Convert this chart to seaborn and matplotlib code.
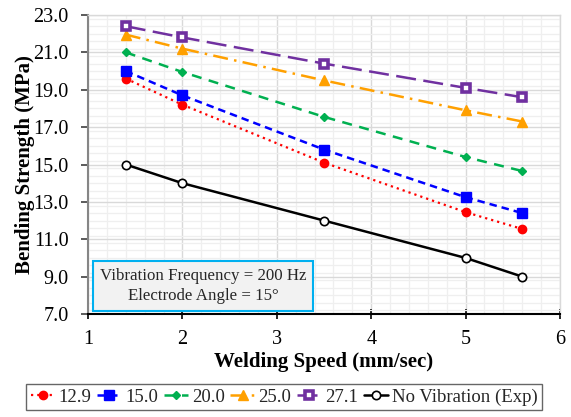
import matplotlib
matplotlib.use("Agg")
import matplotlib.pyplot as plt
import seaborn as sns
import pandas as pd
from matplotlib.ticker import MultipleLocator

sns.set_theme(style="white")
plt.rcParams['font.family'] = ['Liberation Serif', 'DejaVu Serif']
plt.rcParams['mathtext.fontset'] = 'stix'

speed = [1.4, 2.0, 3.5, 5.0, 5.6]
s_12_9 = [19.6, 18.2, 15.1, 12.45, 11.55]
s_15_0 = [20.0, 18.7, 15.8, 13.25, 12.4]
s_20_0 = [21.0, 19.95, 17.55, 15.4, 14.65]
s_25_0 = [21.95, 21.2, 19.5, 17.9, 17.3]
s_27_1 = [22.4, 21.8, 20.4, 19.1, 18.6]
s_none = [15.0, 14.0, 12.0, 10.0, 9.0]
labels = ["12.9", "15.0", "20.0", "25.0", "27.1", "No Vibration (Exp)"]
yticks = [7, 9, 11, 13, 15, 17, 19, 21, 23]
xticks = [1, 2, 3, 4, 5, 6]

series = [s_12_9, s_15_0, s_20_0, s_25_0, s_27_1, s_none]
rows = []
for lab, vals in zip(labels, series):
    for x, y in zip(speed, vals):
        rows.append({"speed": x, "strength": y, "series": lab})
df = pd.DataFrame(rows)

styles = {
    "12.9": dict(color="#ff0000", linestyle=(0, (1, 1.8)), marker="o", ms=6,
                 mfc="#ff0000", mec="#ff0000", lw=1.6),
    "15.0": dict(color="#0000ff", linestyle=(0, (3, 2)), marker="s", ms=6.5,
                 mfc="#0000ff", mec="#0000ff", lw=1.8),
    "20.0": dict(color="#00b050", linestyle=(0, (4, 3)), marker="D", ms=4,
                 mfc="#00b050", mec="#00b050", lw=1.8),
    "25.0": dict(color="#ffa000", linestyle=(0, (6, 2.5, 1, 2.5)), marker="^", ms=6.5,
                 mfc="#ffa000", mec="#ffa000", lw=1.8),
    "27.1": dict(color="#7030a0", linestyle=(0, (8, 3)), marker="s", ms=6,
                 mfc="white", mec="#7030a0", mew=2.6, lw=1.8),
    "No Vibration (Exp)": dict(color="black", linestyle="-", marker="o", ms=6,
                               mfc="white", mec="black", mew=1.2, lw=1.8),
}

fig = plt.figure(figsize=(5.71, 4.17), dpi=100)
ax = fig.add_axes([88/571, 1-314/417, (560-88)/571, (314-15)/417])

for lab in labels:
    st = styles[lab]
    sub = df[df["series"] == lab]
    sns.lineplot(data=sub, x="speed", y="strength", ax=ax, label=lab,
                 color=st["color"], linestyle=st["linestyle"], linewidth=st["lw"],
                 marker=st["marker"], markersize=st["ms"],
                 markerfacecolor=st["mfc"], markeredgecolor=st["mec"],
                 markeredgewidth=st.get("mew", 1.0), zorder=5)

ax.set_xlim(1, 6)
ax.set_ylim(7, 23)
ax.xaxis.set_minor_locator(MultipleLocator(0.2))
ax.yaxis.set_minor_locator(MultipleLocator(0.4))
ax.set_yticks(yticks)
ax.set_yticklabels([f"{v:.1f}" for v in yticks])
ax.set_xticks(xticks)
ax.set_xticklabels([str(v) for v in xticks])

ax.grid(which="major", color="#d9d9d9", linewidth=1.0, zorder=0)
ax.grid(which="minor", color="#efefef", linewidth=0.9, zorder=0)
ax.set_axisbelow(True)

for side in ["top", "right"]:
    ax.spines[side].set_color("#d9d9d9")
    ax.spines[side].set_linewidth(1.0)
ax.spines["left"].set_color("#868686")
ax.spines["left"].set_linewidth(1.5)
ax.spines["bottom"].set_color("black")
ax.spines["bottom"].set_linewidth(1.5)

ax.tick_params(axis="y", which="major", direction="out", length=5, width=1.2,
               color="#404040", labelsize=14.5, left=True, pad=9)
ax.tick_params(axis="x", which="major", direction="inout", length=7, width=1.2,
               color="black", labelsize=14.5, bottom=True, pad=8)
ax.tick_params(which="minor", length=0)
for t in ax.get_xticklabels() + ax.get_yticklabels():
    t.set_color("black")

ax.set_xlabel("Welding Speed (mm/sec)", fontsize=15, fontweight="bold", labelpad=2, color="black")
ax.set_ylabel("Bending Strength (MPa)", fontsize=15, fontweight="bold", labelpad=-1.5, color="black")

ax.text(2.22, 8.5, "Vibration Frequency = 200 Hz\nElectrode Angle = 15°",
        ha="center", va="center", fontsize=12.2, linespacing=1.3, zorder=10,
        bbox=dict(boxstyle="square,pad=0.4", facecolor="#f2f2f2",
                  edgecolor="#00b0f0", linewidth=1.5))

if ax.legend_:
    ax.legend_.remove()
handles, labs = ax.get_legend_handles_labels()
leg = fig.legend(handles, labs, loc="center", bbox_to_anchor=(284/571, 1-397/417),
                 ncol=6, frameon=True, fancybox=False, fontsize=13.5,
                 handlelength=1.3, handletextpad=0.2, columnspacing=0.3,
                 borderpad=0.25, borderaxespad=0)
leg.get_frame().set_edgecolor("#404040")
leg.get_frame().set_linewidth(1.0)

fig.savefig("out.png", dpi=100)
